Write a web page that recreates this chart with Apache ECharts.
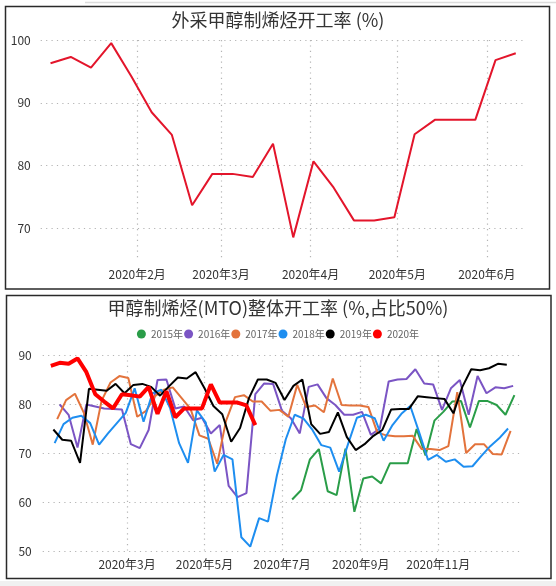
<!DOCTYPE html>
<html>
<head>
<meta charset="utf-8">
<script src="https://cdn.jsdelivr.net/npm/echarts@6/dist/echarts.min.js"></script>
<style>
html,body{margin:0;padding:0;background:#fff;}
#c{width:556px;height:586px;}
</style>
</head>
<body>
<div id="c"></div>
<script>
// ---------- Top chart: 外采甲醇制烯烃开工率 ----------
const topTitle = '外采甲醇制烯烃开工率 (%)';
const topStartDate = '2020-01-02';   // weekly data from this date
const topValues = [96.3, 97.3, 95.6, 99.5, 94.2, 88.5, 84.9, 73.7, 78.7, 78.7, 78.2, 83.5,
                   68.6, 80.7, 76.5, 71.3, 71.3, 71.8, 85.0, 87.3, 87.3, 87.3, 96.8, 97.9];
const topTickDates = ['2020-02-01', '2020-03-01', '2020-04-01', '2020-05-01', '2020-06-01'];
const topTickLabels = ['2020年2月', '2020年3月', '2020年4月', '2020年5月', '2020年6月'];
const topYTicks = [70, 80, 90, 100];

// ---------- Bottom chart: 甲醇制烯烃(MTO)整体开工率 ----------
const mtoTitle = '甲醇制烯烃(MTO)整体开工率 (%,占比50%)';
const years = ['2015年', '2016年', '2017年', '2018年', '2019年', '2020年'];
// first weekly date of each year, placed on the 2020 calendar
const yearStartDates = ['2020-07-09', '2020-01-08', '2020-01-06', '2020-01-04', '2020-01-03', '2020-01-01'];
const v2015 = [60.5, 62.4, 68.7, 70.8, 62.2, 61.4, 70.9, 58.0, 64.8, 65.2, 63.8, 67.9, 67.9, 67.9,
               74.9, 69.5, 76.6, 78.4, 80.5, 80.6, 75.2, 80.6, 80.6, 79.8, 77.8, 81.8];
const v2016 = [79.9, 77.8, 71.1, 79.9, 79.5, 79.1, 79.0, 78.9, 71.8, 71.0, 74.7, 84.9, 85.0,
               79.1, 79.5, 76.7, 77.2, 74.0, 75.7, 63.3, 61.0, 61.8, 82.0, 84.2, 84.1, 78.6,
               77.1, 74.0, 83.5, 84.0, 81.2, 79.8, 77.8, 77.8, 78.4, 73.7, 75.0, 84.6, 85.0,
               85.1, 87.1, 84.2, 84.0, 78.8, 83.2, 84.9, 77.8, 85.7, 82.2, 83.4, 83.2, 83.7];
const v2017 = [76.9, 80.8, 82.1, 78.2, 71.7, 80.7, 84.4, 85.7, 85.3, 77.4, 78.6, 81.6, 82.9,
               83.4, 81.2, 79.0, 73.6, 72.9, 67.8, 76.6, 81.4, 81.8, 80.5, 80.5, 78.6, 78.8,
               77.4, 83.9, 79.4, 79.7, 78.3, 85.2, 79.8, 79.7, 79.7, 79.4, 74.2, 73.6, 73.4,
               73.4, 73.5, 70.8, 70.8, 70.6, 71.4, 82.4, 70.0, 71.8, 71.8, 69.8, 69.7, 74.5];
const v2018 = [72.0, 75.9, 77.2, 77.6, 76.1, 71.7, 74.0, 76.1, 78.2, 83.2, 76.4, 82.2, 82.9,
               79.1, 72.0, 68.0, 78.7, 76.2, 66.2, 69.6, 68.7, 52.8, 50.9, 56.7, 56.0, 65.4,
               72.8, 77.8, 77.0, 74.7, 71.6, 71.1, 66.2, 71.8, 77.2, 77.8, 77.1, 72.5, 75.7,
               78.0, 79.6, 74.2, 68.6, 69.6, 68.2, 68.7, 67.2, 67.3, 69.4, 71.4, 73.0, 75.0];
const v2019 = [74.8, 72.7, 72.5, 68.0, 83.1, 82.9, 82.7, 84.1, 82.2, 83.9, 84.1, 83.5, 81.7,
               83.6, 85.4, 85.2, 86.5, 83.2, 79.6, 77.9, 72.3, 75.1, 81.2, 85.0, 85.0, 84.3,
               80.8, 83.7, 85.0, 75.9, 73.9, 74.3, 78.3, 73.3, 70.6, 71.8, 73.5, 74.7, 78.9,
               79.0, 79.0, 81.6, 81.4, 81.2, 81.0, 78.1, 83.5, 87.1, 86.9, 87.3, 88.2, 88.0];
const v2020 = [87.8, 88.4, 88.2, 89.3, 86.5, 82.0, 80.5, 79.1, 82.0, 81.8, 81.5, 83.5,
               78.0, 82.6, 77.3, 79.1, 79.1, 79.1, 84.0, 80.3, 80.3, 80.3, 79.7, 75.7];
const yearValues = [v2015, v2016, v2017, v2018, v2019, v2020];
const yearColors = ['#2a9d48', '#7b55c4', '#e3733c', '#1e8ef0', '#000000', '#ff0000'];
const mtoTickDates = ['2020-03-01', '2020-05-01', '2020-07-01', '2020-09-01', '2020-11-01'];
const mtoTickLabels = ['2020年3月', '2020年5月', '2020年7月', '2020年9月', '2020年11月'];

// ---------- helpers ----------
const DAY = 86400000;
const ORIGIN = Date.parse('2020-01-01');
function dayOf(s) { return Math.round((Date.parse(s) - ORIGIN) / DAY); }
function weekly(start, vals) { const d0 = dayOf(start); return vals.map((v, i) => [d0 + 7 * i, v]); }
function labeler(days, labels) { return function (v) { const k = days.indexOf(Math.round(v)); return k >= 0 ? labels[k] : ''; }; }

const topTickDays = topTickDates.map(dayOf);
const mtoTickDays = mtoTickDates.map(dayOf);

const FONT = "'Noto Sans CJK SC', 'Noto Sans', sans-serif";
const gridLine = { show: true, lineStyle: { color: '#b4b4b4', type: [1.2, 4.2], width: 1.2 } };
const axisText = { fontSize: 12, color: '#333', fontFamily: FONT };

const series = [{
  name: 'top', type: 'line', xAxisIndex: 0, yAxisIndex: 0,
  data: weekly(topStartDate, topValues),
  showSymbol: false, symbol: 'none',
  lineStyle: { color: '#e3152b', width: 2 },
  itemStyle: { color: '#e3152b' },
  silent: true
}];
years.forEach((y, k) => {
  series.push({
    name: y, type: 'line', xAxisIndex: 1, yAxisIndex: 1,
    data: weekly(yearStartDates[k], yearValues[k]),
    showSymbol: false, symbol: 'none',
    lineStyle: { color: yearColors[k], width: y === '2020年' ? 4 : 2 },
    itemStyle: { color: yearColors[k] },
    z: 2 + k
  });
});

const chart = echarts.init(document.getElementById('c'), null, { renderer: 'canvas' });
chart.setOption({
  backgroundColor: '#fff',
  animation: false,
  textStyle: { fontFamily: FONT },
  title: [
    { text: topTitle, left: 'center', top: 11, padding: 0,
      textStyle: { fontSize: 18, fontWeight: 'normal', color: '#333', fontFamily: FONT } },
    { text: mtoTitle, left: 'center', top: 299, padding: 0,
      textStyle: { fontSize: 18, fontWeight: 'normal', color: '#333', fontFamily: FONT } }
  ],
  legend: {
    data: years, top: 329, left: 'center', padding: 0,
    icon: 'circle', itemWidth: 9, itemHeight: 9, itemGap: 1,
    textStyle: { fontSize: 10, color: '#666', fontFamily: FONT }
  },
  grid: [
    { left: 40.7, right: 31, top: 40, bottom: 326 },
    { left: 42.7, right: 36, top: 355, bottom: 35 }
  ],
  xAxis: [
    { type: 'value', gridIndex: 0, min: -2.4, max: 165.2,
      axisLine: { show: false }, axisTick: { show: false, customValues: topTickDays },
      axisLabel: Object.assign({ customValues: topTickDays, formatter: labeler(topTickDays, topTickLabels), margin: 8 }, axisText),
      splitLine: gridLine },
    { type: 'value', gridIndex: 1, min: -6.4, max: 369.4,
      axisLine: { show: false }, axisTick: { show: false, customValues: mtoTickDays },
      axisLabel: Object.assign({ customValues: mtoTickDays, formatter: labeler(mtoTickDays, mtoTickLabels), margin: 7 }, axisText),
      splitLine: gridLine }
  ],
  yAxis: [
    { type: 'value', gridIndex: 0, min: 65, max: 100,
      axisLine: { show: false }, axisTick: { show: false, customValues: topYTicks },
      axisLabel: Object.assign({ customValues: topYTicks, margin: 10 }, axisText),
      splitLine: gridLine },
    { type: 'value', gridIndex: 1, min: 50, max: 90, interval: 10,
      axisLine: { show: false }, axisTick: { show: false },
      axisLabel: Object.assign({ margin: 11 }, axisText),
      splitLine: gridLine }
  ],
  graphic: [
    { type: 'rect', shape: { x: 5.5, y: 6.5, width: 544, height: 282.5 },
      style: { fill: 'none', stroke: '#2a2a2a', lineWidth: 1.5 }, silent: true },
    { type: 'rect', shape: { x: 6.5, y: 295.5, width: 544.5, height: 283 },
      style: { fill: 'none', stroke: '#2a2a2a', lineWidth: 1.5 }, silent: true },
    { type: 'line', shape: { x1: 85, y1: 2.5, x2: 556, y2: 2.5 },
      style: { stroke: '#dcdcdc', lineWidth: 1.5 }, silent: true },
    { type: 'rect', shape: { x: 0, y: 581, width: 556, height: 5 },
      style: { fill: '#f0f0f0' }, silent: true }
  ],
  series: series
});
</script>
</body>
</html>
